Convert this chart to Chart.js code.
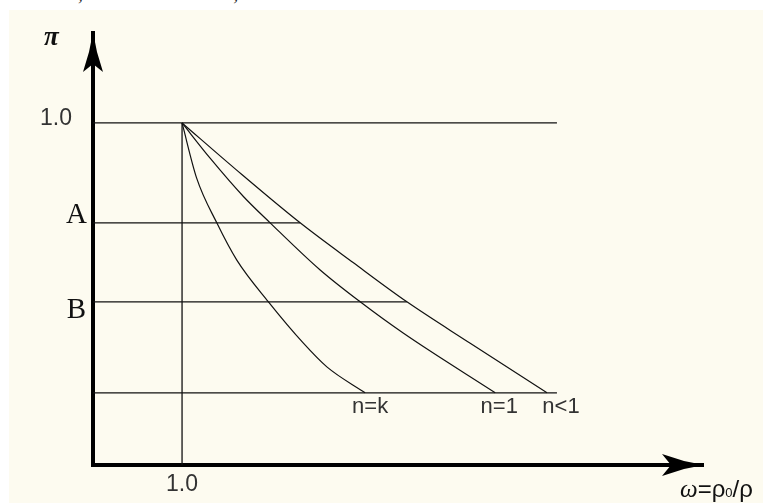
<!DOCTYPE html>
<html>
<head>
<meta charset="utf-8">
<script src="https://cdn.jsdelivr.net/npm/chart.js@4.4.0/dist/chart.umd.min.js"></script>
<style>
    html, body { margin: 0; padding: 0; background: #ffffff; }
    #wrap { position: relative; width: 763px; height: 503px; overflow: hidden; }
    #topline { position: absolute; left: 0; top: -18px; font-family: "Liberation Serif", serif; font-size: 20px; color: #222; }
    #topline span { position: absolute; white-space: nowrap; }
    canvas { position: absolute; left: 0; top: 0; }
</style>
</head>
<body>
<div id="wrap">
    <div id="topline"><span style="left:78px">,</span><span style="left:192px">Σ</span><span style="left:212px">o</span><span style="left:233px">;</span></div>
    <canvas id="myChart" width="763" height="503"></canvas>
</div>
<script>
// curve names
var curveNames = ["n=k", "n=1", "n<1"];

// ω values, π values alongside
var omegaK = [1.0, 1.165, 1.39, 1.615, 1.97, 2.36, 2.626, 3.056];
var piK = [1.0, 0.838, 0.708, 0.599, 0.477, 0.357, 0.287, 0.211];

var omega1 = [1.0, 1.315, 1.689, 1.989, 2.551, 3.0, 3.487, 4.517];
var pi1 = [1.0, 0.897, 0.785, 0.708, 0.57, 0.477, 0.385, 0.211];

var omegaL = [1.0, 1.6, 2.326, 2.925, 3.525, 4.236, 5.098];
var piL = [1.0, 0.865, 0.708, 0.591, 0.477, 0.356, 0.211];

// horizontal guide levels: 1.0, A, B and the lowest pressure
var levelNames = ["1.0", "A", "B", ""];
var levelPi = [1.0, 0.708, 0.477, 0.211];
var levelEnd = [5.21, 2.326, 3.525, 5.21];

// x ticks
var xTickValues = [1.0];
var xTickLabels = ["1.0"];

var axisMaxX = 6.85;
var axisMaxY = 1.263;

function toPoints(xs, ys) {
    var pts = [];
    for (var i = 0; i < xs.length; i++) {
        pts.push({ x: xs[i], y: ys[i] });
    }
    return pts;
}

var lineColor = "#111";
var datasets = [];

// guide lines
for (var i = 0; i < levelPi.length; i++) {
    datasets.push({
        label: "level " + levelNames[i],
        data: [{ x: 0, y: levelPi[i] }, { x: levelEnd[i], y: levelPi[i] }],
        borderColor: lineColor,
        borderWidth: 1.3,
        pointRadius: 0,
        tension: 0,
    });
}
// vertical at ω = 1.0
datasets.push({
    label: "omega 1",
    data: [{ x: xTickValues[0], y: 0 }, { x: xTickValues[0], y: 1.0 }],
    borderColor: lineColor,
    borderWidth: 1.3,
    pointRadius: 0,
    tension: 0,
});

var curves = [toPoints(omegaK, piK), toPoints(omega1, pi1), toPoints(omegaL, piL)];
for (var c = 0; c < curves.length; c++) {
    datasets.push({
        label: curveNames[c],
        data: curves[c],
        borderColor: lineColor,
        borderWidth: 1.2,
        pointRadius: 0,
        cubicInterpolationMode: "monotone",
    });
}

var paperPlugin = {
    id: "paper",
    beforeDraw: function (chart) {
        var ctx = chart.ctx;
        ctx.save();
        ctx.fillStyle = "#fdfbf0";
        ctx.fillRect(9, 10, chart.width - 9, chart.height - 10);
        ctx.restore();
    },
};

var labelsPlugin = {
    id: "labels",
    afterDraw: function (chart) {
        var ctx = chart.ctx;
        var xs = chart.scales.x;
        var ys = chart.scales.y;
        var area = chart.chartArea;
        ctx.save();
        ctx.fillStyle = "#000";

        // arrow heads
        var tx = area.left, ty = area.top - 1;
        ctx.beginPath();
        ctx.moveTo(tx, ty);
        ctx.lineTo(tx + 4, ty + 20);
        ctx.lineTo(tx + 10, ty + 40);
        ctx.lineTo(tx, ty + 32);
        ctx.lineTo(tx - 10, ty + 40);
        ctx.lineTo(tx - 4, ty + 20);
        ctx.closePath();
        ctx.fill();

        var rx = area.right + 1, ry = area.bottom;
        ctx.beginPath();
        ctx.moveTo(rx, ry);
        ctx.lineTo(rx - 20, ry - 4);
        ctx.lineTo(rx - 42, ry - 11);
        ctx.lineTo(rx - 33, ry);
        ctx.lineTo(rx - 42, ry + 11);
        ctx.lineTo(rx - 20, ry + 4);
        ctx.closePath();
        ctx.fill();

        // y level labels
        ctx.fillStyle = "#333";
        ctx.textAlign = "right";
        ctx.textBaseline = "alphabetic";
        for (var i = 0; i < levelNames.length; i++) {
            var py = ys.getPixelForValue(levelPi[i]);
            if (levelNames[i] == "1.0") {
                ctx.font = "23px 'Liberation Sans', Arial, sans-serif";
                ctx.fillText(levelNames[i], area.left - 21, py + 2);
            } else if (levelNames[i] == "A") {
                ctx.font = "29px 'Liberation Serif', serif";
                ctx.fillStyle = "#111";
                ctx.fillText(levelNames[i], area.left - 6, py);
            } else if (levelNames[i] == "B") {
                ctx.font = "29px 'Liberation Serif', serif";
                ctx.fillStyle = "#111";
                ctx.fillText(levelNames[i], area.left - 7, py + 16);
            }
        }

        // x tick labels
        ctx.fillStyle = "#333";
        ctx.font = "23px 'Liberation Sans', Arial, sans-serif";
        ctx.textAlign = "center";
        ctx.textBaseline = "top";
        for (var j = 0; j < xTickValues.length; j++) {
            ctx.fillText(xTickLabels[j], xs.getPixelForValue(xTickValues[j]), area.bottom + 8);
        }

        // curve names under their end points
        var offsets = [5, 4, 14];
        ctx.font = "22px 'Liberation Sans', Arial, sans-serif";
        for (var c = 0; c < curves.length; c++) {
            var last = curves[c][curves[c].length - 1];
            ctx.fillText(curveNames[c], xs.getPixelForValue(last.x) + offsets[c], ys.getPixelForValue(last.y) + 3);
        }

        // axis names
        ctx.fillStyle = "#111";
        ctx.textAlign = "left";
        ctx.textBaseline = "alphabetic";
        ctx.font = "italic bold 27px 'Liberation Serif', serif";
        ctx.fillText("π", area.left - 49, area.top + 12);

        var bx = area.right - 23, by = area.bottom + 32;
        ctx.font = "italic 25px 'Liberation Serif', serif";
        ctx.fillText("ω", bx, by);
        bx += ctx.measureText("ω").width;
        ctx.font = "24px 'Liberation Sans', Arial, sans-serif";
        ctx.fillText("=ρ", bx, by);
        bx += ctx.measureText("=ρ").width;
        ctx.font = "13px 'Liberation Sans', Arial, sans-serif";
        ctx.fillText("0", bx, by);
        bx += ctx.measureText("0").width;
        ctx.font = "24px 'Liberation Sans', Arial, sans-serif";
        ctx.fillText("/ρ", bx, by);
        ctx.restore();
    },
};

var ctx = document.getElementById("myChart").getContext("2d");
var myChart = new Chart(ctx, {
    type: "line",
    data: { datasets: datasets },
    options: {
        responsive: false,
        animation: false,
        layout: { padding: { left: 93, top: 33, right: 60, bottom: 38 } },
        plugins: {
            legend: { display: false },
            tooltip: { enabled: false },
        },
        scales: {
            x: {
                type: "linear",
                min: 0,
                max: axisMaxX,
                grid: { display: false, drawTicks: false },
                ticks: { display: false },
                border: { display: true, color: "#000", width: 4 },
            },
            y: {
                type: "linear",
                min: 0,
                max: axisMaxY,
                grid: { display: false, drawTicks: false },
                ticks: { display: false },
                border: { display: true, color: "#000", width: 4 },
            },
        },
    },
    plugins: [paperPlugin, labelsPlugin],
});
</script>
</body>
</html>
